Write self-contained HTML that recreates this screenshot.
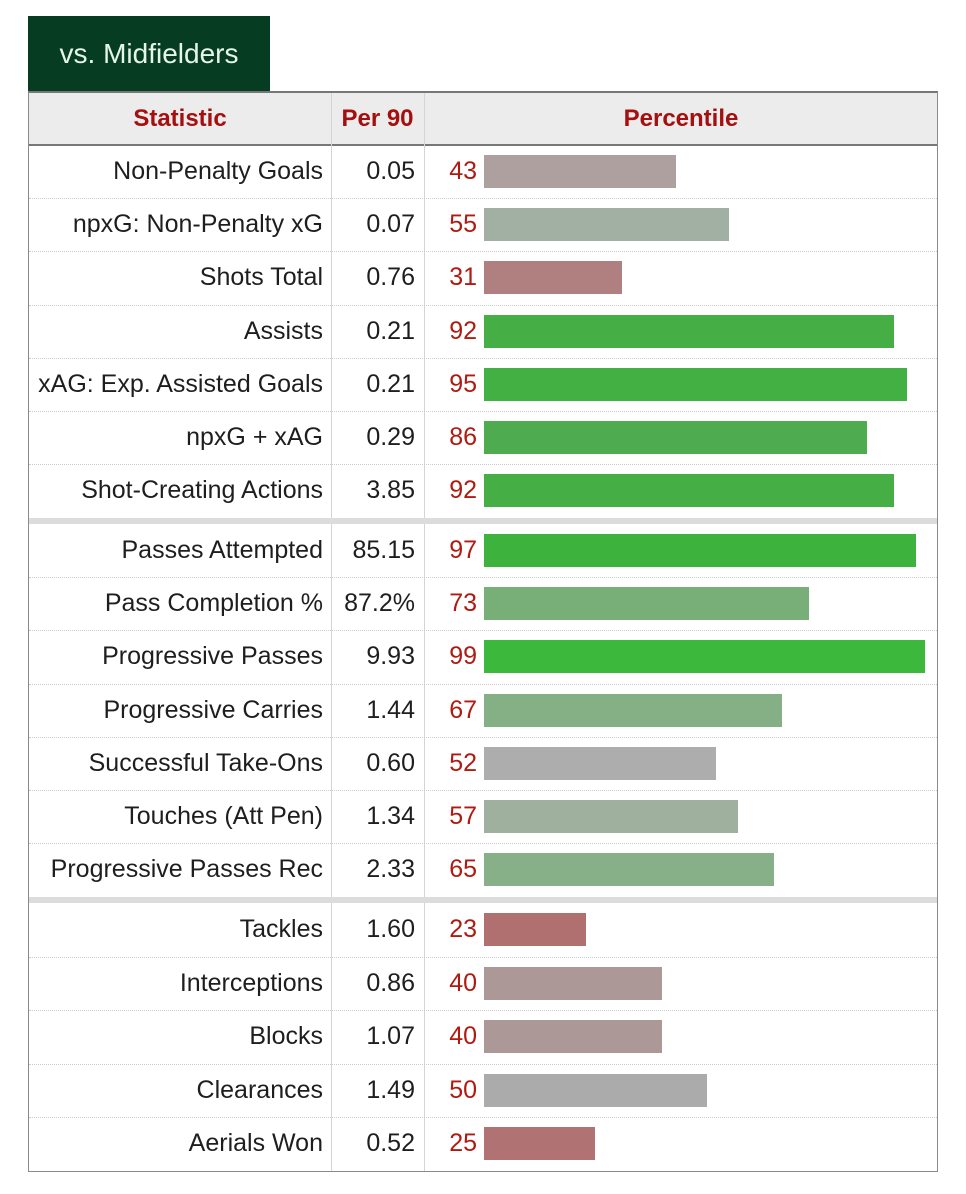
<!DOCTYPE html>
<html><head><meta charset="utf-8"><style>
body{margin:0;width:966px;height:1194px;background:#fff;font-family:"Liberation Sans",sans-serif;position:relative;overflow:hidden}
.abs{position:absolute}
.tab{left:28px;top:16px;width:242px;height:75px;background:#063d22;color:#e6f5ea;font-size:28px;line-height:75px;text-align:center}
.tbl{left:28px;top:91px;width:908px;height:1078px;border:1px solid #8a8a8a;border-top:2px solid #777}
.hdr{left:29px;top:93px;width:908px;height:51px;background:#ececec;border-bottom:2px solid #777}
.h{color:#a50f0f;font-weight:bold;font-size:24px;line-height:51px;text-align:center}
.vline{width:1px;background:#d5d5d5;top:93px;height:1078px}
.cell{font-size:25px;color:#1e1e1e;height:53px;line-height:53px;white-space:nowrap}
.sep{left:29px;width:908px;height:6px;background:#dcdcdc}
.dot{left:29px;width:908px;border-top:1px dotted #ccc}
.pct{color:#b01a10}
</style></head><body>
<div class="abs tab">vs. Midfielders</div>
<div class="abs tbl"></div>
<div class="abs hdr"></div>
<div class="abs h" style="left:29px;top:93px;width:302px">Statistic</div>
<div class="abs h" style="left:331px;top:93px;width:93px">Per 90</div>
<div class="abs h" style="left:424px;top:93px;width:514px">Percentile</div>
<div class="abs vline" style="left:331px"></div>
<div class="abs vline" style="left:424px"></div>
<div id="rows"></div>
<script>
const stats=["Non-Penalty Goals","npxG: Non-Penalty xG","Shots Total","Assists","xAG: Exp. Assisted Goals","npxG + xAG","Shot-Creating Actions","Passes Attempted","Pass Completion %","Progressive Passes","Progressive Carries","Successful Take-Ons","Touches (Att Pen)","Progressive Passes Rec","Tackles","Interceptions","Blocks","Clearances","Aerials Won"];
const per90=["0.05","0.07","0.76","0.21","0.21","0.29","3.85","85.15","87.2%","9.93","1.44","0.60","1.34","2.33","1.60","0.86","1.07","1.49","0.52"];
const percentiles=[43,55,31,92,95,86,92,97,73,99,67,52,57,65,23,40,40,50,25];
const barColors=["#ada09f","#a2afa3","#b08080","#45ae45","#42b042","#4fab4f","#45ae45","#3db33d","#78ae78","#3cb83c","#85b085","#adadad","#9fb09f","#88b088","#b07070","#ad9898","#ad9898","#ababab","#b07272"];
const groupStarts=[0,7,14];
const root=document.getElementById('rows');
const xScale=p=>p*4.455;
const rowTop=i=>{ if(i<7) return 145+i*53.2; if(i<14) return 524+(i-7)*53.2; return 903+(i-14)*53.6; };
function mk(cls,st){const d=document.createElement('div');d.className='abs '+cls;d.style.cssText=st;root.appendChild(d);return d;}
[518,897].forEach(y=>{const s=mk('sep','top:'+y+'px');

});
stats.forEach((s,i)=>{
 const t=rowTop(i);
 if(!groupStarts.includes(i)){const d=mk('dot','top:'+t+'px');
 
 }
 const a=mk('cell','left:0px;width:323px;text-align:right;top:'+t+'px');a.textContent=s;
 
 
 const b=mk('cell','left:331px;width:84px;text-align:right;top:'+t+'px');b.textContent=per90[i];
 
 
 const c=mk('cell pct','left:430px;width:47px;text-align:right;top:'+t+'px');c.textContent=percentiles[i];
 
 
 const r=mk('','left:484px;top:'+(t+10)+'px;height:33px;width:'+xScale(percentiles[i])+'px;background:'+barColors[i]);
 
 
});
</script>
</body></html>
